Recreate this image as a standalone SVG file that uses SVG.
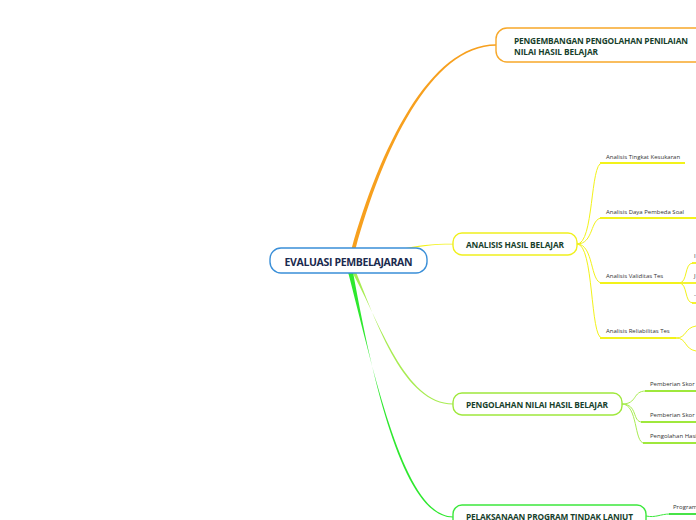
<svg xmlns="http://www.w3.org/2000/svg" width="696" height="520" viewBox="0 0 696 520">
<style>
.box{fill:#fff;stroke-width:1.4}
.t{font-family:"Open Sans","Noto Sans","Liberation Sans",sans-serif;font-weight:bold;fill:#173f2c}
.root{font-family:"Open Sans","Noto Sans","Liberation Sans",sans-serif;font-weight:bold;fill:#1b2a4e;font-size:10.5px}
.s{font-family:"Open Sans","Noto Sans","Liberation Sans",sans-serif;fill:#333;font-size:6px}
.cy{fill:none;stroke:#f2f21a;stroke-width:1}
.uy{fill:none;stroke:#f2f21a;stroke-width:1.8}
.cg{fill:none;stroke:#a8ec52;stroke-width:1}
.ug{fill:none;stroke:#9fe83c;stroke-width:1.8}
.cb{fill:none;stroke:#3de83d;stroke-width:1}
.ub{fill:none;stroke:#33e033;stroke-width:1.8}
</style>
<rect width="696" height="520" fill="#fff"/>
<g id="connectors">
<path d="M351.5,249 C379.5,150 429,44.3 496,44.3 L496,45.7 C431,45.7 382.5,150 355.5,249 Z" fill="#f7a01e"/>
<path d="M398,249.5 C420,245 430,243.7 453,243.7 L453,244.6 C431,244.6 421,246.5 400,250.5 Z" fill="#f2f21a"/>
<path d="M352,272 C380,322 405,403.5 453,403.5 L453,404.5 C404,404.5 377,324 356,272 Z" fill="#a8ec52"/>
<path d="M348,272 C376,380 405,516.5 453,516.5 L453,517.5 C403,517.5 373,382 353,272 Z" fill="#2ee82e"/>
<path class="cy" d="M577,244 C594,244 590,163 602,163"/>
<path class="cy" d="M577,244 C594,244 590,218 602,218"/>
<path class="cy" d="M577,244 C594,244 590,283 602,283"/>
<path class="cy" d="M577,244 C594,244 590,338 602,338"/>
<line class="uy" x1="600" y1="163" x2="685" y2="163"/>
<line class="uy" x1="600" y1="218" x2="696" y2="218"/>
<line class="uy" x1="600" y1="283" x2="679" y2="283"/>
<line class="uy" x1="600" y1="338" x2="676" y2="338"/>
<path class="cy" d="M679,283 C688,283 684,263 693,263"/>
<path class="cy" d="M679,283 C688,283 684,303 693,303"/>
<line class="uy" x1="679" y1="283" x2="696" y2="283"/>
<line class="uy" x1="692" y1="263" x2="696" y2="263"/>
<line class="uy" x1="692" y1="303" x2="696" y2="303"/>
<path class="cy" d="M676,338 C687,338 684,328 696,326"/>
<path class="cy" d="M676,338 C687,338 684,349 696,351"/>
<path class="cg" d="M622,404 C638,404 632,391 646,391"/>
<path class="cg" d="M622,404 C638,404 632,422 642,422"/>
<path class="cg" d="M622,404 C638,404 634,443 644,443"/>
<line class="ug" x1="645" y1="391" x2="696" y2="391"/>
<line class="ug" x1="641" y1="422" x2="696" y2="422"/>
<line class="ug" x1="643" y1="443" x2="696" y2="443"/>
<path class="cb" d="M646,516 C656,518 660,514 670,514"/>
<line class="ub" x1="669" y1="514" x2="696" y2="514"/>
</g>
<g id="root">
<rect class="box" x="270" y="248" width="157" height="25" rx="11" stroke="#3a8fd8"/>
<text class="root" x="348.5" y="265.5" text-anchor="middle" textLength="128">EVALUASI PEMBELAJARAN</text>
</g>
<g id="pengembangan">
<rect class="box" x="496" y="28" width="215" height="34" rx="11" stroke="#f7a82a"/>
<text class="t" font-size="8.3" x="514" y="44" textLength="174">PENGEMBANGAN PENGOLAHAN PENILAIAN</text>
<text class="t" font-size="8.3" x="514" y="54.5" textLength="84">NILAI HASIL BELAJAR</text>
</g>
<g id="analisis">
<rect class="box" x="453" y="233" width="124" height="22" rx="9" stroke="#f0f01e"/>
<text class="t" font-size="8.3" x="466" y="247.5" textLength="98">ANALISIS HASIL BELAJAR</text>
</g>
<g id="analisis-tingkat"><text class="s" x="606" y="158.5">Analisis Tingkat Kesukaran</text></g>
<g id="analisis-daya"><text class="s" x="606" y="213.5">Analisis Daya Pembeda Soal</text></g>
<g id="analisis-validitas"><text class="s" x="606" y="278">Analisis Validitas Tes</text></g>
<g id="analisis-reliabilitas"><text class="s" x="606" y="333">Analisis Reliabilitas Tes</text></g>
<g id="validitas-1"><text class="s" x="694" y="258">I</text></g>
<g id="validitas-2"><text class="s" x="694" y="278">J</text></g>
<g id="validitas-3"><text class="s" x="694" y="297">-</text></g>
<g id="pengolahan">
<rect class="box" x="453" y="393" width="169" height="22" rx="9" stroke="#9fe83c"/>
<text class="t" font-size="8.3" x="466" y="407.5" textLength="142">PENGOLAHAN NILAI HASIL BELAJAR</text>
</g>
<g id="pemberian-skor-1"><text class="s" x="650" y="386">Pemberian Skor</text></g>
<g id="pemberian-skor-2"><text class="s" x="650" y="417">Pemberian Skor</text></g>
<g id="pengolahan-hasil"><text class="s" x="650" y="438">Pengolahan Hasil</text></g>
<g id="pelaksanaan">
<rect class="box" x="453" y="505" width="193" height="26" rx="9" stroke="#3de83d"/>
<text class="t" font-size="8.3" x="466" y="519.5" textLength="167">PELAKSANAAN PROGRAM TINDAK LANJUT</text>
</g>
<g id="program"><text class="s" x="673" y="509">Program</text></g>
</svg>
